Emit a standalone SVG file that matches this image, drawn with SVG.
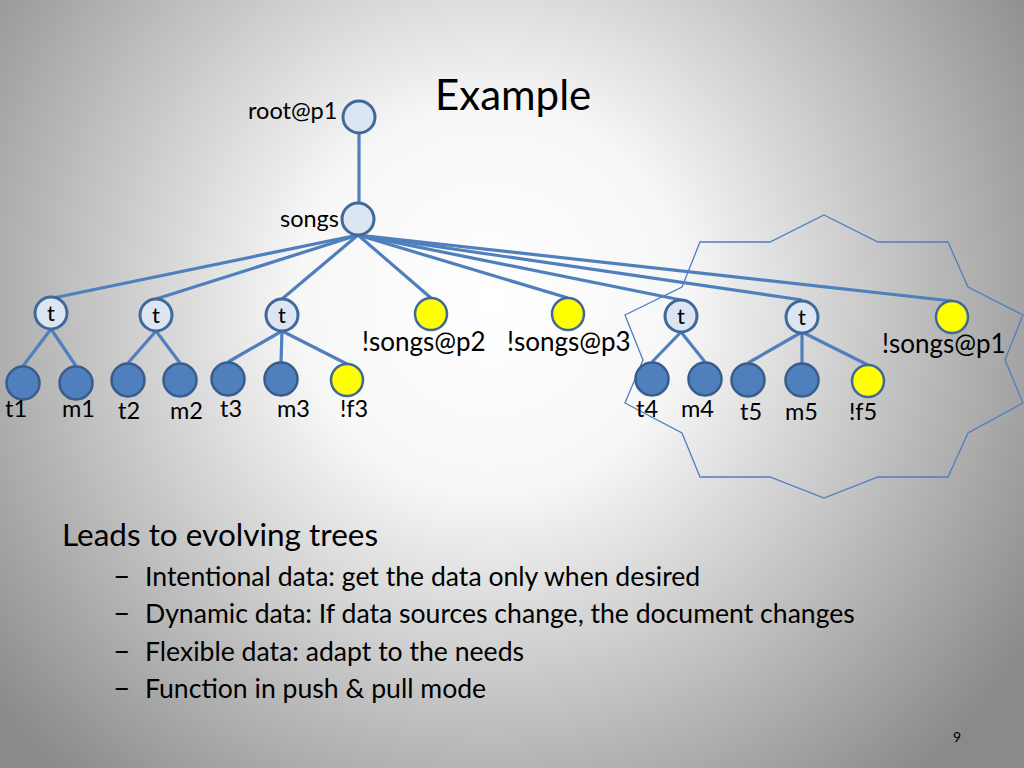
<svg xmlns="http://www.w3.org/2000/svg" width="1024" height="768" viewBox="0 0 1024 768">
<defs>
<radialGradient id="bg" cx="490" cy="300" r="640" gradientUnits="userSpaceOnUse">
<stop offset="0" stop-color="#ffffff"/>
<stop offset="0.3" stop-color="#f7f7f7"/>
<stop offset="1" stop-color="#8a8a8a"/>
</radialGradient>
<style>
text{font-family:Lato,"Liberation Sans",sans-serif;fill:#000}
.lbl{font-size:23.5px}
.ns{font-size:26px}
.tl{font-size:22px}
.inner{fill:#dce6f2;stroke:#41689a;stroke-width:3}
.leaf{fill:#4f7fbc;stroke:#385d8a;stroke-width:2.5}
.ext{fill:#ffff00;stroke:#41689a;stroke-width:2.5}
.edge{stroke:#4f7fbc;stroke-width:3.2;fill:none}
.cloud{fill:none;stroke:#4f7fbc;stroke-width:1.3}
.bul{font-size:26.6px}
</style>
</defs>
<rect width="1024" height="768" fill="url(#bg)"/>
<polygon class="cloud" points="824,215 878,242 948,242 968,287 1023,315 1005,360 1023,403 968,433 948,477 878,477 824,498 770,477 700,477 682,433 625,403 643,360 625,315 682,287 700,242 770,242"/>
<text x="435" y="110" font-size="42">Example</text>
<g id="connectors">
<line class="edge" x1="359" y1="133" x2="359" y2="203"/>
<line class="edge" x1="358" y1="235" x2="53" y2="298"/>
<line class="edge" x1="358" y1="235" x2="156" y2="299"/>
<line class="edge" x1="358" y1="235" x2="282" y2="299"/>
<line class="edge" x1="358" y1="235" x2="431" y2="298"/>
<line class="edge" x1="358" y1="235" x2="568" y2="298"/>
<line class="edge" x1="358" y1="235" x2="681" y2="300"/>
<line class="edge" x1="358" y1="235" x2="802" y2="300"/>
<line class="edge" x1="358" y1="235" x2="952" y2="301"/>
<line class="edge" x1="51" y1="329" x2="23" y2="366"/>
<line class="edge" x1="51" y1="329" x2="76" y2="366"/>
<line class="edge" x1="156" y1="331" x2="128" y2="363"/>
<line class="edge" x1="156" y1="331" x2="180" y2="363"/>
<line class="edge" x1="282" y1="331" x2="228" y2="362"/>
<line class="edge" x1="282" y1="331" x2="281" y2="362"/>
<line class="edge" x1="282" y1="331" x2="347" y2="364"/>
<line class="edge" x1="681" y1="332" x2="652" y2="362"/>
<line class="edge" x1="681" y1="332" x2="705" y2="362"/>
<line class="edge" x1="802" y1="332" x2="748" y2="363"/>
<line class="edge" x1="802" y1="332" x2="802" y2="363"/>
<line class="edge" x1="802" y1="332" x2="868" y2="365"/>
</g>
<g id="root"><circle class="inner" cx="359" cy="117" r="16"/><text class="lbl" x="248" y="119">root@p1</text></g>
<g id="songs"><circle class="inner" cx="358" cy="219" r="16"/><text class="lbl" x="280" y="227">songs</text></g>
<g id="tA"><circle class="inner" cx="51" cy="313" r="16"/><text class="tl" x="51" y="321" text-anchor="middle">t</text></g>
<g id="tB"><circle class="inner" cx="156" cy="315" r="16"/><text class="tl" x="156" y="323" text-anchor="middle">t</text></g>
<g id="tC"><circle class="inner" cx="282" cy="315" r="16"/><text class="tl" x="282" y="323" text-anchor="middle">t</text></g>
<g id="sp2"><circle class="ext" cx="431" cy="314" r="16"/><text class="ns" x="362" y="351">!songs@p2</text></g>
<g id="sp3"><circle class="ext" cx="568" cy="314" r="16"/><text class="ns" x="507" y="351">!songs@p3</text></g>
<g id="tD"><circle class="inner" cx="681" cy="316" r="16"/><text class="tl" x="681" y="324" text-anchor="middle">t</text></g>
<g id="tE"><circle class="inner" cx="802" cy="317" r="16"/><text class="tl" x="802" y="325" text-anchor="middle">t</text></g>
<g id="sp1"><circle class="ext" cx="952" cy="317" r="16"/><text class="ns" x="882" y="353">!songs@p1</text></g>
<g id="t1"><circle class="leaf" cx="23" cy="383" r="16.5"/><text class="lbl" x="5" y="417">t1</text></g>
<g id="m1"><circle class="leaf" cx="76" cy="383" r="16.5"/><text class="lbl" x="62" y="417">m1</text></g>
<g id="t2"><circle class="leaf" cx="128" cy="380" r="16.5"/><text class="lbl" x="118" y="419">t2</text></g>
<g id="m2"><circle class="leaf" cx="180" cy="380" r="16.5"/><text class="lbl" x="170" y="419">m2</text></g>
<g id="t3"><circle class="leaf" cx="228" cy="379" r="16.5"/><text class="lbl" x="220" y="417">t3</text></g>
<g id="m3"><circle class="leaf" cx="281" cy="379" r="16.5"/><text class="lbl" x="277" y="417">m3</text></g>
<g id="f3"><circle class="ext" cx="347" cy="380" r="16"/><text class="lbl" x="340" y="417">!f3</text></g>
<g id="t4"><circle class="leaf" cx="652" cy="379" r="16.5"/><text class="lbl" x="636" y="417">t4</text></g>
<g id="m4"><circle class="leaf" cx="705" cy="379" r="16.5"/><text class="lbl" x="681" y="417">m4</text></g>
<g id="t5"><circle class="leaf" cx="748" cy="380" r="16.5"/><text class="lbl" x="740" y="420">t5</text></g>
<g id="m5"><circle class="leaf" cx="802" cy="380" r="16.5"/><text class="lbl" x="785" y="420">m5</text></g>
<g id="f5"><circle class="ext" cx="868" cy="381" r="16"/><text class="lbl" x="849" y="420">!f5</text></g>
<text x="62" y="546" font-size="31.5">Leads to evolving trees</text>
<g class="bul">
<text x="113" y="586" font-size="30">–</text><text x="145" y="586">Intentional data: get the data only when desired</text>
<text x="113" y="623" font-size="30">–</text><text x="145" y="623">Dynamic data: If data sources change, the document changes</text>
<text x="113" y="661" font-size="30">–</text><text x="145" y="661">Flexible data: adapt to the needs</text>
<text x="113" y="698" font-size="30">–</text><text x="145" y="698">Function in push &amp; pull mode</text>
</g>
<text x="957" y="742" font-size="14" text-anchor="middle">9</text>
</svg>
